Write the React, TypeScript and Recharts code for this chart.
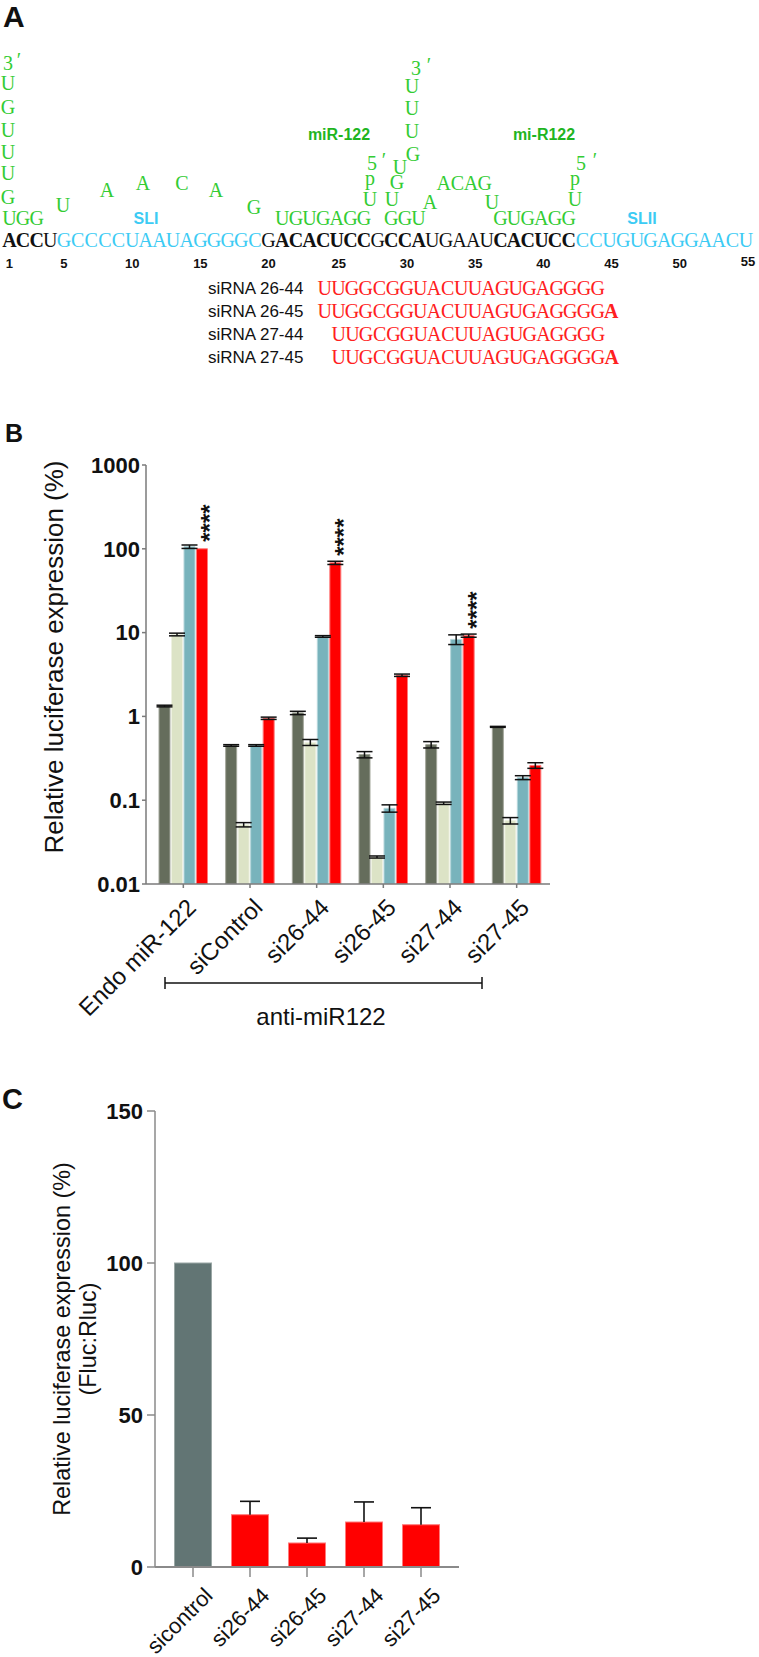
import React from "react";
import { BarChart, Bar, XAxis, YAxis, ErrorBar, LabelList } from "recharts";

// ---------------- Panel A data ----------------
const hcvSequence = "ACCUGCCCCUAAUAGGGGCGACACUCCGCCAUGAAUCACUCCCCUGUGAGGAACU";
const hcvStyle = "bbbnsssssssssssssssnbbbbbbbnbbbnnnnnbbbbbbsssssssssssss";
const positionLabels = [1, 5, 10, 15, 20, 25, 30, 35, 40, 45, 50, 55];
const sirnaNames = ["siRNA 26-44", "siRNA 26-45", "siRNA 27-44", "siRNA 27-45"];
const sirnaSeqs = ["UUGGCGGUACUUAGUGAGGGG", "UUGGCGGUACUUAGUGAGGGG", "UUGCGGUACUUAGUGAGGGG", "UUGCGGUACUUAGUGAGGGG"];
const sirnaOverhang = ["", "A", "", "A"];
const sirnaStartX = [318, 318, 332, 332];

// green miR-122 single glyphs: [text, centerX, centerY]
const mirLetters: [string, number, number][] = [
  ["G", 8, 197], ["U", 8, 173], ["U", 8, 152], ["U", 8, 130], ["G", 8, 107], ["U", 8, 83], ["3", 8, 63], ["′", 19, 60],
  ["U", 63, 205], ["A", 107, 190], ["A", 143, 183], ["C", 182, 183], ["A", 216, 190], ["G", 254, 207],
  ["U", 370, 199], ["p", 370, 178], ["5", 372, 163], ["′", 384, 160],
  ["U", 412, 86], ["U", 412, 108], ["U", 412, 131], ["G", 413, 154], ["U", 400, 167], ["G", 397, 182], ["U", 392, 199],
  ["3", 416, 68], ["′", 429, 65],
  ["A", 430, 202], ["U", 492, 202], ["U", 575, 199], ["p", 575, 178], ["5", 581, 163], ["′", 595, 160],
];
// green strings in monospace cells: [text, leftX, centerY]
const mirStrings: [string, number, number][] = [
  ["UGG", 2.6, 218], ["UGUGAGG", 275.4, 218], ["GGU", 384.5, 218], ["GUGAGG", 493.6, 218], ["ACAG", 437, 183],
];

// ---------------- Panel B data ----------------
const categoriesB = ["Endo miR-122", "siControl", "si26-44", "si26-45", "si27-44", "si27-45"];
const darkB = [1.33, 0.45, 1.1, 0.35, 0.46, 0.75];
const lightB = [9.5, 0.051, 0.49, 0.021, 0.092, 0.057];
const tealB = [106, 0.45, 9.0, 0.08, 8.3, 0.186];
const redB = [100, 0.95, 68, 3.1, 9.2, 0.26];
const darkErrB = [0.03, 0.01, 0.05, 0.03, 0.04, 0.01];
const lightErrB = [0.35, 0.003, 0.04, 0.0006, 0.003, 0.005];
const tealErrB = [5, 0.01, 0.2, 0.008, 1.1, 0.01];
const redErrB = [0, 0.03, 3, 0.1, 0.4, 0.02];
const starsB = ["****", "", "****", "", "****", ""];
const ticksB = [0.01, 0.1, 1, 10, 100, 1000];

// ---------------- Panel C data ----------------
const categoriesC = ["sicontrol", "si26-44", "si26-45", "si27-44", "si27-45"];
const valuesC = [100, 17.2, 7.9, 14.8, 13.9];
const errorsC = [0, 4.4, 1.6, 6.6, 5.6];
const ticksC = [0, 50, 100, 150];

const SANS = "'Liberation Sans', Arial, Helvetica, sans-serif";
const SERIF = "'Liberation Serif', 'Times New Roman', serif";
const GREEN = "#33cc33";
const GREEN_LABEL = "#1fb51f";
const BLUE = "#3ccbf4";
const RED_TXT = "#ff2020";
const CELL = 13.64; // monospace cell width
const SEQ_SIZE = 20;

const dataB = categoriesB.map((name, i) => ({
  name,
  dark: darkB[i], light: lightB[i], teal: tealB[i], red: redB[i],
  darkErr: darkErrB[i], lightErr: lightErrB[i], tealErr: tealErrB[i], redErr: redErrB[i],
  stars: starsB[i],
}));

const dataC = categoriesC.map((name, i) => ({ name, val: valuesC[i], err: errorsC[i] }));

function cellCenters(left: number, startIdx: number, count: number) {
  const xs: string[] = [];
  for (let i = 0; i < count; i++) xs.push((left + (startIdx + i + 0.5) * CELL).toFixed(2));
  return xs.join(" ");
}

function seqRuns(seq: string, style: string) {
  const runs: { t: string; s: string; start: number }[] = [];
  for (let i = 0; i < seq.length; i++) {
    const s = style[i];
    if (runs.length && runs[runs.length - 1].s === s) runs[runs.length - 1].t += seq[i];
    else runs.push({ t: seq[i], s, start: i });
  }
  return runs;
}

const PanelA = () => {
  const x0 = 2.6;
  return (
    <svg width={759} height={400} style={{ position: "absolute", left: 0, top: 0 }}>
      <text x={3} y={27} fontFamily={SANS} fontWeight="bold" fontSize={30} fill="#111">A</text>
      {mirLetters.map(([t, x, y], i) => (
        <text key={"l" + i} x={x} y={y + 7} textAnchor="middle" fontFamily={SERIF} fontSize={SEQ_SIZE} fill={GREEN}>{t}</text>
      ))}
      {mirStrings.map(([t, x, y], i) => (
        <text key={"s" + i} x={cellCenters(x, 0, t.length)} y={y + 7} textAnchor="middle" fontFamily={SERIF} fontSize={SEQ_SIZE} fill={GREEN}>{t}</text>
      ))}
      <text x={339} y={140} textAnchor="middle" fontFamily={SANS} fontWeight="bold" fontSize={16} fill={GREEN_LABEL}>miR-122</text>
      <text x={544} y={140} textAnchor="middle" fontFamily={SANS} fontWeight="bold" fontSize={16} fill={GREEN_LABEL}>mi-R122</text>
      <text x={146} y={224} textAnchor="middle" fontFamily={SANS} fontWeight="bold" fontSize={16} fill={BLUE}>SLI</text>
      <text x={642} y={224} textAnchor="middle" fontFamily={SANS} fontWeight="bold" fontSize={16} fill={BLUE}>SLII</text>
      <text y={247} textAnchor="middle" fontFamily={SERIF} fontSize={SEQ_SIZE}>
        {seqRuns(hcvSequence, hcvStyle).map((r, i) => (
          <tspan key={i} x={cellCenters(x0, r.start, r.t.length)} fontWeight={r.s === "b" ? "bold" : "normal"} fill={r.s === "s" ? BLUE : "#111"}>{r.t}</tspan>
        ))}
      </text>
      {positionLabels.map((p) => (
        <text key={p} x={x0 + (p - 0.5) * CELL + (p > 20 ? 2 : 0)} y={p === 55 ? 266 : 268} textAnchor="middle" fontFamily={SANS} fontWeight="bold" fontSize={13} fill="#111">{p}</text>
      ))}
      {sirnaNames.map((n, i) => (
        <g key={n}>
          <text x={208} y={294 + i * 23} fontFamily={SANS} fontSize={17} fill="#111">{n}</text>
          <text y={295 + i * 23} textAnchor="middle" fontFamily={SERIF} fontSize={SEQ_SIZE} fill={RED_TXT}>
            <tspan x={cellCenters(sirnaStartX[i], 0, sirnaSeqs[i].length)}>{sirnaSeqs[i]}</tspan>
            {sirnaOverhang[i] ? (
              <tspan x={cellCenters(sirnaStartX[i], sirnaSeqs[i].length, 1)} fontWeight="bold">{sirnaOverhang[i]}</tspan>
            ) : null}
          </text>
        </g>
      ))}
    </svg>
  );
};

const RotTick = (props: any) => {
  const { x, payload, axisY, dx, dy, fontSize } = props;
  const tx = x + dx;
  const ty = axisY + dy;
  return (
    <text x={tx} y={ty} transform={`rotate(-45 ${tx} ${ty})`} textAnchor="end" fontFamily={SANS} fontSize={fontSize} fill="#111">
      {payload.value}
    </text>
  );
};

const StarLabel = (props: any) => {
  const { x, y, width, value } = props;
  if (!value) return null;
  const cx = x + width / 2 + 2;
  const by = y - 7;
  return (
    <text x={cx} y={by} dy="0.6em" transform={`rotate(-90 ${cx} ${by})`} textAnchor="start" fontFamily={SANS} fontWeight="bold" fontSize={24} fill="#111">
      {value}
    </text>
  );
};

const ErrShape = (props: any) => {
  const { x, y, width, height, fill, stroke, payload } = props;
  const val = payload.val;
  const err = payload.err;
  const cx = x + width / 2;
  const yTop = val ? y - (err * height) / val : y;
  return (
    <g>
      <rect x={x} y={y} width={width} height={height} fill={fill} stroke={stroke} strokeWidth={1} />
      {err > 0 ? (
        <g stroke="#111" strokeWidth={1.6}>
          <line x1={cx} x2={cx} y1={y} y2={yTop} />
          <line x1={cx - 10} x2={cx + 10} y1={yTop} y2={yTop} />
        </g>
      ) : null}
    </g>
  );
};

const PanelB = () => (
  <div style={{ position: "absolute", left: 0, top: 440 }}>
    <BarChart width={759} height={620} data={dataB} margin={{ top: 25, right: 209, bottom: 146, left: 86 }} barGap={1.5} barSize={11}>
      <XAxis
        dataKey="name"
        interval={0}
        height={30}
        padding={{ left: 4, right: 0 }}
        axisLine={{ stroke: "#7a7a7a", strokeWidth: 1.5 }}
        tickLine={{ stroke: "#7a7a7a", strokeWidth: 1.5 }}
        tickSize={4}
        tick={(p: any) => <RotTick {...p} axisY={444} dx={14} dy={25} fontSize={24} />}
      />
      <YAxis
        scale="log"
        domain={[0.01, 1000]}
        ticks={ticksB}
        allowDataOverflow
        width={60}
        axisLine={{ stroke: "#7a7a7a", strokeWidth: 1.5 }}
        tickLine={{ stroke: "#7a7a7a", strokeWidth: 1.5 }}
        tickSize={4}
        tickMargin={2}
        tickFormatter={(v: number) => String(v)}
        tick={{ fontSize: 22, fontWeight: "bold", fill: "#111", fontFamily: SANS }}
      />
      <Bar dataKey="dark" fill="#656d5c" stroke="#a3a79b" strokeWidth={1} isAnimationActive={false}>
        <ErrorBar dataKey="darkErr" width={8} stroke="#111" strokeWidth={1.5} />
      </Bar>
      <Bar dataKey="light" fill="#dce3c6" stroke="#eef1e2" strokeWidth={1} isAnimationActive={false}>
        <ErrorBar dataKey="lightErr" width={8} stroke="#111" strokeWidth={1.5} />
      </Bar>
      <Bar dataKey="teal" fill="#78b3bc" stroke="#b4d5da" strokeWidth={1} isAnimationActive={false}>
        <ErrorBar dataKey="tealErr" width={8} stroke="#111" strokeWidth={1.5} />
      </Bar>
      <Bar dataKey="red" fill="#ff0000" stroke="#ff7a7a" strokeWidth={1} isAnimationActive={false}>
        <ErrorBar dataKey="redErr" width={8} stroke="#111" strokeWidth={1.5} />
        <LabelList dataKey="stars" content={<StarLabel />} />
      </Bar>
    </BarChart>
  </div>
);

const PanelC = () => (
  <div style={{ position: "absolute", left: 0, top: 1080 }}>
    <BarChart width={759} height={577} data={dataC} margin={{ top: 31, right: 300, bottom: 60, left: 95 }} barSize={37}>
      <XAxis
        dataKey="name"
        interval={0}
        height={30}
        padding={{ left: 9.5, right: 9.5 }}
        axisLine={{ stroke: "#8a8a8a", strokeWidth: 2 }}
        tickLine={{ stroke: "#8a8a8a", strokeWidth: 1.5 }}
        tickSize={10}
        tick={(p: any) => <RotTick {...p} axisY={487} dx={21} dy={30} fontSize={22} />}
      />
      <YAxis
        domain={[0, 150]}
        ticks={ticksC}
        width={60}
        axisLine={{ stroke: "#8a8a8a", strokeWidth: 1.5 }}
        tickLine={{ stroke: "#8a8a8a", strokeWidth: 1.5 }}
        tickSize={8}
        tickMargin={4}
        tick={{ fontSize: 22, fontWeight: "bold", fill: "#111", fontFamily: SANS }}
      />
      <Bar dataKey="val" isAnimationActive={false} shape={(p: any) => (
        <ErrShape {...p} fill={p.index === 0 ? "#627574" : "#ff0000"} stroke={p.index === 0 ? "#9aa7a5" : "#ff7a7a"} />
      )} />
    </BarChart>
  </div>
);

const Overlay = () => (
  <svg width={759} height={1657} style={{ position: "absolute", left: 0, top: 0, pointerEvents: "none" }}>
    <text x={5} y={442} fontFamily={SANS} fontWeight="bold" fontSize={25} fill="#111">B</text>
    <text x={63} y={657} transform="rotate(-90 63 657)" textAnchor="middle" fontFamily={SANS} fontSize={26} fill="#111">
      Relative luciferase expression (%)
    </text>
    <g stroke="#111" strokeWidth={1.5}>
      <line x1={165} x2={482} y1={983} y2={983} />
      <line x1={165} x2={165} y1={977} y2={989} />
      <line x1={482} x2={482} y1={977} y2={989} />
    </g>
    <text x={321} y={1025} textAnchor="middle" fontFamily={SANS} fontSize={24} fill="#111">anti-miR122</text>

    <text x={2} y={1109} fontFamily={SANS} fontWeight="bold" fontSize={29} fill="#111">C</text>
    <text x={70} y={1339} transform="rotate(-90 70 1339)" textAnchor="middle" fontFamily={SANS} fontSize={23.4} fill="#111">
      Relative luciferase expression (%)
    </text>
    <text x={96} y={1339} transform="rotate(-90 96 1339)" textAnchor="middle" fontFamily={SANS} fontSize={23.4} fill="#111">
      (Fluc:Rluc)
    </text>
  </svg>
);

export default function App() {
  return (
    <div style={{ position: "absolute", left: 0, top: 0, width: 759, height: 1657, background: "#fff", fontFamily: SANS }}>
      <PanelA />
      <PanelB />
      <PanelC />
      <Overlay />
    </div>
  );
}
